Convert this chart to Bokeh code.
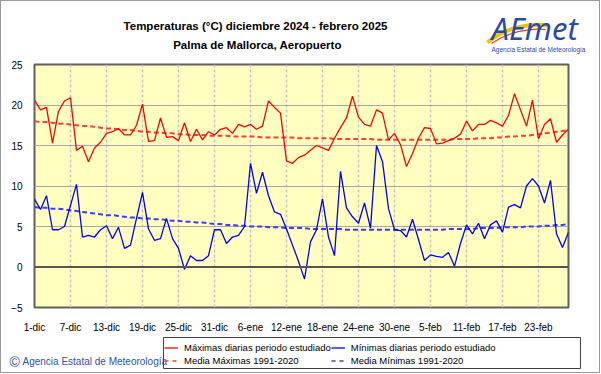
from bokeh.plotting import figure
from bokeh.layouts import column
from bokeh.models import Label, Legend, LegendItem, FixedTicker, Span, Range1d
from bokeh.embed import file_html
from bokeh.resources import INLINE

days = list(range(90))

tmax = [20.6, 19.4, 19.7, 15.3, 19.2, 20.5, 20.9, 14.4, 14.9, 13.0,
        14.7, 15.4, 16.5, 16.7, 17.1, 16.3, 16.3, 17.5, 20.1, 15.5,
        15.6, 18.4, 16.0, 16.1, 15.6, 17.8, 15.5, 17.0, 15.7, 16.7,
        16.3, 17.0, 17.2, 16.5, 17.6, 17.3, 17.6, 17.0, 17.4, 20.5,
        19.7, 19.0, 13.1, 12.8, 13.5, 13.8, 14.4, 15.0, 14.7, 14.4,
        15.9, 17.2, 18.4, 21.1, 18.5, 17.6, 17.4, 19.4, 19.0, 15.7,
        16.5, 15.1, 12.4, 14.0, 15.9, 17.2, 17.1, 15.2, 15.3, 15.6,
        15.9, 16.4, 18.0, 16.8, 17.6, 17.6, 18.1, 17.8, 17.4, 18.7,
        21.4, 19.4, 17.4, 20.6, 15.8, 17.6, 18.3, 15.4, 16.3, 17.0]

tmin = [8.4, 7.1, 8.8, 4.6, 4.6, 5.0, 7.6, 10.2, 3.7, 3.9,
        3.7, 4.6, 5.1, 3.5, 4.9, 2.3, 2.7, 6.0, 9.2, 4.7,
        3.3, 3.5, 6.0, 3.5, 2.3, -0.3, 1.4, 0.8, 0.8, 1.4,
        4.6, 4.6, 2.9, 3.7, 3.9, 5.0, 12.8, 9.1, 11.7, 8.8,
        6.8, 6.5, 4.7, 2.7, 0.7, -1.5, 3.1, 4.6, 8.4, 3.7,
        1.4, 11.8, 7.3, 6.2, 5.4, 7.9, 4.8, 15.0, 13.0, 7.2,
        4.6, 4.5, 3.7, 5.9, 3.4, 0.8, 1.5, 1.3, 1.2, 1.8,
        0.1, 2.9, 5.2, 4.1, 5.4, 3.5, 5.2, 5.7, 4.3, 7.4,
        7.7, 7.3, 10.0, 10.9, 10.0, 7.9, 10.7, 4.1, 2.4, 4.3]

tmax_mean = [18.0, 17.9, 17.9, 17.8, 17.7, 17.7, 17.6, 17.5, 17.4, 17.4,
             17.3, 17.2, 17.1, 17.1, 17.0, 16.9, 16.9, 16.8, 16.7, 16.7,
             16.6, 16.6, 16.5, 16.5, 16.4, 16.4, 16.3, 16.3, 16.3, 16.2,
             16.2, 16.2, 16.2, 16.1, 16.1, 16.1, 16.1, 16.1, 16.0, 16.0,
             16.0, 16.0, 16.0, 16.0, 15.9, 15.9, 15.9, 15.9, 15.9, 15.9,
             15.8, 15.8, 15.8, 15.8, 15.8, 15.8, 15.8, 15.7, 15.7, 15.7,
             15.7, 15.7, 15.7, 15.7, 15.7, 15.7, 15.7, 15.7, 15.7, 15.7,
             15.8, 15.8, 15.8, 15.8, 15.9, 15.9, 15.9, 16.0, 16.0, 16.1,
             16.1, 16.2, 16.2, 16.3, 16.4, 16.5, 16.6, 16.7, 16.8, 16.9]

tmin_mean = [7.4, 7.3, 7.3, 7.2, 7.2, 7.1, 7.0, 6.9, 6.8, 6.7,
             6.6, 6.5, 6.4, 6.4, 6.3, 6.2, 6.1, 6.1, 6.0, 6.0,
             5.9, 5.9, 5.8, 5.7, 5.7, 5.6, 5.6, 5.5, 5.5, 5.4,
             5.3, 5.3, 5.2, 5.2, 5.1, 5.1, 5.0, 5.0, 5.0, 4.9,
             4.9, 4.9, 4.8, 4.8, 4.8, 4.8, 4.7, 4.7, 4.7, 4.7,
             4.7, 4.7, 4.6, 4.6, 4.6, 4.6, 4.6, 4.6, 4.6, 4.6,
             4.6, 4.6, 4.6, 4.6, 4.6, 4.6, 4.6, 4.6, 4.6, 4.7,
             4.7, 4.7, 4.7, 4.7, 4.8, 4.8, 4.8, 4.8, 4.9, 4.9,
             4.9, 4.9, 5.0, 5.0, 5.0, 5.1, 5.1, 5.2, 5.2, 5.3]

tick_days = [0, 6, 12, 18, 24, 30, 36, 42, 48, 54, 60, 66, 72, 78, 84]
tick_labels = ["1-dic", "7-dic", "13-dic", "19-dic", "25-dic", "31-dic", "6-ene",
               "12-ene", "18-ene", "24-ene", "30-ene", "5-feb", "11-feb", "17-feb", "23-feb"]
y_ticks = [-5, 0, 5, 10, 15, 20, 25]

title_lines = ["Temperaturas (°C) diciembre 2024 - febrero 2025", "Palma de Mallorca, Aeropuerto"]
series_names = ["Máximas diarias periodo estudiado", "Mínimas diarias periodo estudiado",
                "Media Máximas 1991-2020", "Media Mínimas 1991-2020"]
credit = "Agencia Estatal de Meteorología"

FONT = "Liberation Sans"
W = 598          # inner width (page x 1..599)
HEAD_TOP, HEAD_H = 1, 59
MAIN_H = 275
FOOT_TOP = HEAD_TOP + HEAD_H + MAIN_H   # 335
FOOT_H = 37

COL_MAX = "#FF0000"
COL_MIN = "#0000FF"
COL_MAX_M = "#FF3B3B"
COL_MIN_M = "#3B3BFF"


def no_align(f):
    try:
        f.frame_align = False
    except Exception:
        pass
    return f


def blank(top, height):
    # data coordinates of these panels equal page pixel coordinates
    f = figure(width=W, height=height, output_backend="svg", toolbar_location=None,
               x_range=Range1d(1, 1 + W), y_range=Range1d(top + height, top),
               x_axis_type=None, y_axis_type=None, min_border=0,
               min_border_left=0, min_border_right=0, min_border_top=0, min_border_bottom=0,
               background_fill_color="white", border_fill_color="white")
    f.grid.visible = False
    f.outline_line_color = None
    return no_align(f)


# ---------- header: title + logo ----------
head = blank(HEAD_TOP, HEAD_H)
head.add_layout(Label(x=255, y=25, text=title_lines[0], text_align="center", text_baseline="middle",
                      text_font=FONT, text_font_style="bold", text_font_size="11.5px", text_color="black"))
head.add_layout(Label(x=257, y=44, text=title_lines[1], text_align="center", text_baseline="middle",
                      text_font=FONT, text_font_style="bold", text_font_size="11.5px", text_color="black"))
head.bezier(x0=[487], y0=[42], x1=[548], y1=[25], cx0=[503], cy0=[28], cx1=[528], cy1=[22],
            line_color="#F2C200", line_width=4)
head.bezier(x0=[491], y0=[43], x1=[545], y1=[29], cx0=[507], cy0=[32], cx1=[528], cy1=[27],
            line_color="#E04020", line_width=1.2)
head.add_layout(Label(x=491, y=27, text="AEmet", text_align="left", text_baseline="middle",
                      text_font="Noto Sans", text_font_style="italic", text_font_size="31px",
                      text_color="#2A4AA8"))
head.add_layout(Label(x=538, y=49, text=credit, text_align="center", text_baseline="middle",
                      text_font=FONT, text_font_size="6.5px", text_color="#2A4AA8"))

# ---------- main chart (frame: page x 34..568, y 64..310) ----------
p = figure(width=W, height=MAIN_H, output_backend="svg", toolbar_location=None,
           x_range=Range1d(0, 89), y_range=Range1d(-5, 25),
           min_border_left=33, min_border_right=31, min_border_top=4, min_border_bottom=25,
           background_fill_color="#FFFFC0", border_fill_color="white")
no_align(p)
p.outline_line_color = "#606060"
p.outline_line_width = 2

p.xaxis.ticker = FixedTicker(ticks=tick_days)
p.xaxis.major_label_overrides = {d: l for d, l in zip(tick_days, tick_labels)}
p.yaxis.ticker = FixedTicker(ticks=y_ticks)
for ax in (p.xaxis, p.yaxis):
    ax.axis_line_color = None
    ax.major_tick_line_color = None
    ax.minor_tick_line_color = None
    ax.major_label_text_font = FONT
    ax.major_label_text_font_size = "10px"
    ax.major_label_text_color = "black"
p.xaxis.major_label_standoff = 8
p.yaxis.major_label_standoff = 6

p.xgrid.ticker = FixedTicker(ticks=tick_days)
p.xgrid.grid_line_color = "#C4C4C4"
p.xgrid.grid_line_width = 1.5
p.xgrid.grid_line_dash = "3 2"
p.ygrid.ticker = FixedTicker(ticks=y_ticks)
p.ygrid.grid_line_color = "#A8A8A8"
p.ygrid.grid_line_width = 1

p.add_layout(Span(location=0, dimension="width", line_color="#555555", line_width=2))

p.line(days, tmax_mean, line_color=COL_MAX_M, line_width=2, line_dash="5 3")
p.line(days, tmin_mean, line_color=COL_MIN_M, line_width=2, line_dash="5 3")
p.line(days, tmax, line_color=COL_MAX, line_width=1.3)
p.line(days, tmin, line_color=COL_MIN, line_width=1.3)

# ---------- footer: credit + legend ----------
foot = blank(FOOT_TOP, FOOT_H)
foot.quad(left=[163], right=[580], top=[337], bottom=[368], fill_color="white",
          line_color="#404040", line_width=1)
# legend key renderers (kept off-canvas, only their styles are shown in the legend)
off_x = [-20, -10]
off_y = [300, 300]
k1 = foot.line(off_x, off_y, line_color=COL_MAX, line_width=1.3)
k2 = foot.line(off_x, off_y, line_color=COL_MIN, line_width=1.3)
k3 = foot.line(off_x, off_y, line_color=COL_MAX_M, line_width=1.5, line_dash="4 4")
k4 = foot.line(off_x, off_y, line_color=COL_MIN_M, line_width=1.5, line_dash="4 4")
legend = Legend(items=[LegendItem(label=series_names[0], renderers=[k1]),
                       LegendItem(label=series_names[1], renderers=[k2]),
                       LegendItem(label=series_names[2], renderers=[k3]),
                       LegendItem(label=series_names[3], renderers=[k4])],
                orientation="horizontal", ncols=2, location=(163, 5),
                label_text_font=FONT, label_text_font_size="9.5px", label_text_color="black",
                label_height=13, glyph_height=13, glyph_width=14,
                padding=3, spacing=0, label_standoff=6, margin=0,
                border_line_color=None, background_fill_alpha=0)
foot.add_layout(legend)
foot.add_layout(Label(x=9, y=361, text="©", text_align="left", text_baseline="middle",
                      text_font=FONT, text_font_size="14px", text_color="#3050A8"))
foot.add_layout(Label(x=22, y=361, text=credit, text_align="left", text_baseline="middle",
                      text_font=FONT, text_font_size="10px", text_color="#3050A8"))

layout = column(head, p, foot, spacing=0, styles={"border": "1px solid #9A9A9A"})
open("out.html", "w").write(file_html(layout, INLINE))
